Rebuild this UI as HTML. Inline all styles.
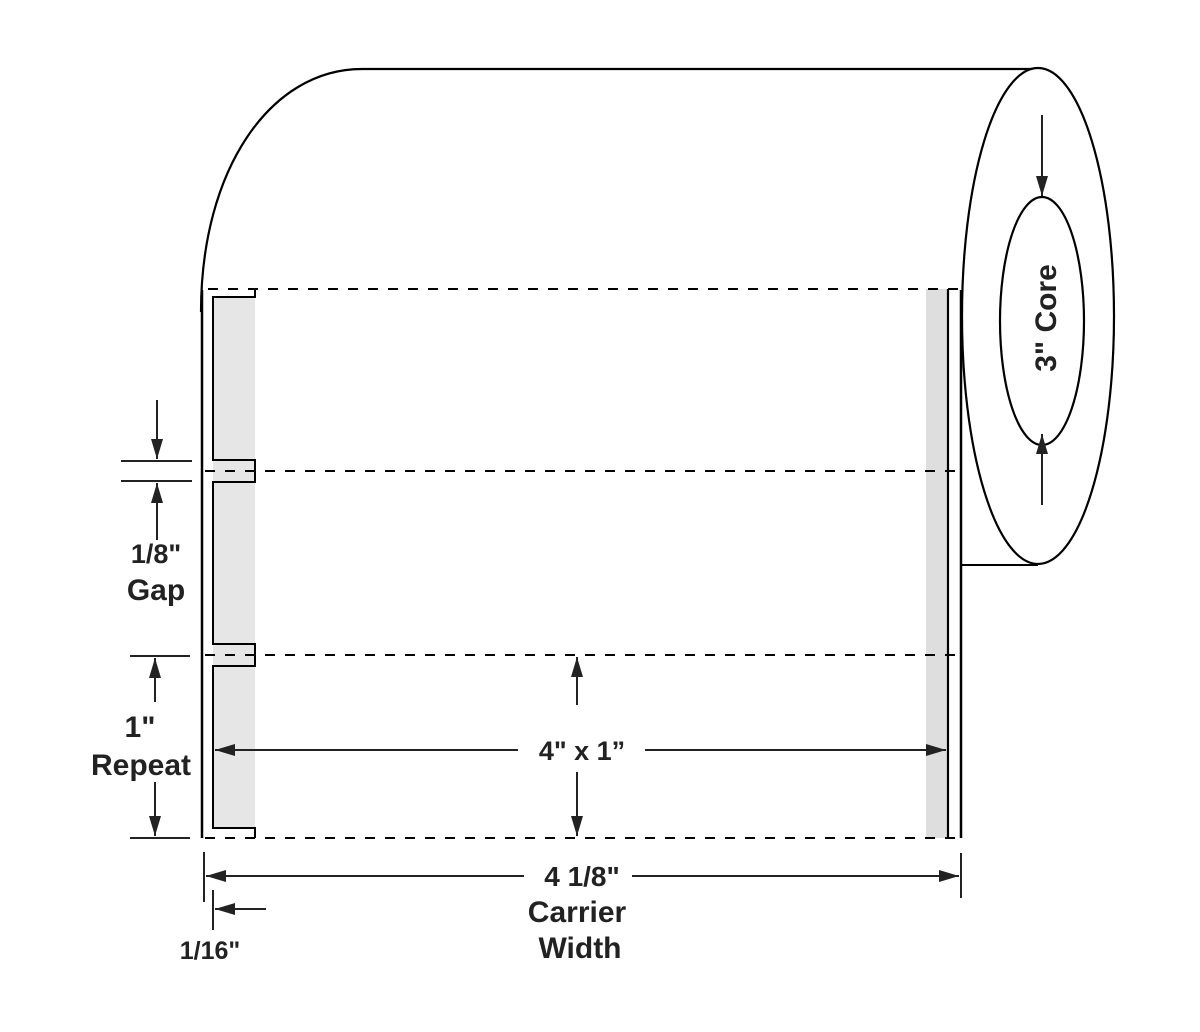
<!DOCTYPE html>
<html><head><meta charset="utf-8"><style>
html,body{margin:0;padding:0;background:#fff;}
svg{display:block;}
text{font-family:"Liberation Sans",sans-serif;font-weight:bold;fill:#222;}
</style></head><body>
<svg width="1200" height="1032" viewBox="0 0 1200 1032" xmlns="http://www.w3.org/2000/svg">
<defs>
<marker id="b" viewBox="0 0 20 12" refX="20" refY="6" markerWidth="20" markerHeight="12" markerUnits="userSpaceOnUse" orient="auto">
<path d="M0,0 L20,6 L0,12 z" fill="#222"/></marker>
</defs>
<path d="M201,312 C201,170 270,69 362,69 L1036,69" fill="none" stroke="#000" stroke-width="2.2"/>
<ellipse cx="1038" cy="316" rx="76" ry="248" fill="#fff" stroke="#000" stroke-width="2.2"/>
<ellipse cx="1042" cy="321" rx="42" ry="124" fill="#fff" stroke="#000" stroke-width="2.2"/>
<line x1="961" y1="565" x2="1038" y2="565" stroke="#000" stroke-width="2"/>
<rect x="213" y="297" width="42" height="531" fill="#e6e6e6"/>
<rect x="926" y="289" width="22" height="549" fill="#dedede"/>
<line x1="202" y1="290" x2="202" y2="838" stroke="#000" stroke-width="2.5"/>
<line x1="961" y1="290" x2="961" y2="838" stroke="#000" stroke-width="2.5"/>
<line x1="948" y1="289" x2="948" y2="838" stroke="#000" stroke-width="2.2"/>
<g stroke="#000" stroke-width="2" stroke-dasharray="10,10">
<line x1="208" y1="289" x2="961" y2="289"/>
<line x1="205" y1="471" x2="961" y2="471"/>
<line x1="205" y1="655" x2="961" y2="655"/>
<line x1="205" y1="838" x2="961" y2="838"/>
</g>
<path d="M255,289 L255,297 L213,297 L213,460 L255,460 L255,482 L213,482 L213,644 L255,644 L255,666 L213,666 L213,828 L255,828 L255,838" fill="none" stroke="#000" stroke-width="2"/>
<g stroke="#222" stroke-width="2">
<line x1="121" y1="461" x2="192" y2="461"/>
<line x1="121" y1="481" x2="192" y2="481"/>
<line x1="157" y1="400" x2="157" y2="459" marker-end="url(#b)"/>
<line x1="157" y1="540" x2="157" y2="483" marker-end="url(#b)"/>
<line x1="130" y1="656" x2="190" y2="656"/>
<line x1="130" y1="838" x2="190" y2="838"/>
<line x1="155" y1="702" x2="155" y2="658" marker-end="url(#b)"/>
<line x1="155" y1="782" x2="155" y2="836" marker-end="url(#b)"/>
<line x1="518" y1="750" x2="215" y2="750" marker-end="url(#b)"/>
<line x1="645" y1="750" x2="946" y2="750" marker-end="url(#b)"/>
<line x1="577" y1="705" x2="577" y2="657" marker-end="url(#b)"/>
<line x1="577" y1="772" x2="577" y2="836" marker-end="url(#b)"/>
<line x1="204" y1="852" x2="204" y2="902"/>
<line x1="961" y1="853" x2="961" y2="898"/>
<line x1="524" y1="876" x2="206" y2="876" marker-end="url(#b)"/>
<line x1="632" y1="876" x2="959" y2="876" marker-end="url(#b)"/>
<line x1="213" y1="890" x2="213" y2="930"/>
<line x1="266" y1="909" x2="215" y2="909" marker-end="url(#b)"/>
<line x1="1042" y1="115" x2="1042" y2="196" marker-end="url(#b)"/>
<line x1="1042" y1="505" x2="1042" y2="434" marker-end="url(#b)"/>
</g>
<text x="156" y="563" font-size="27" text-anchor="middle">1/8"</text>
<text x="156" y="600" font-size="30" text-anchor="middle">Gap</text>
<text x="140" y="737" font-size="30" text-anchor="middle">1"</text>
<text x="141" y="775" font-size="30" text-anchor="middle">Repeat</text>
<text x="582" y="760" font-size="27" text-anchor="middle">4" x 1”</text>
<text x="582" y="886" font-size="28" text-anchor="middle">4 1/8"</text>
<text x="577" y="922" font-size="30" text-anchor="middle">Carrier</text>
<text x="580" y="958" font-size="30" text-anchor="middle">Width</text>
<text x="210" y="959" font-size="25" text-anchor="middle" font-weight="normal">1/16"</text>
<text transform="translate(1056,318) rotate(-90)" font-size="30" text-anchor="middle">3" Core</text>
</svg>
</body></html>
